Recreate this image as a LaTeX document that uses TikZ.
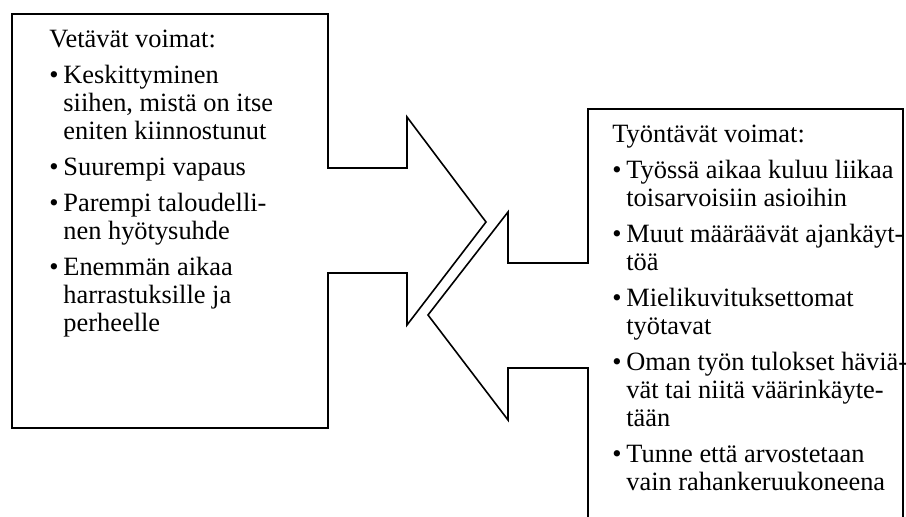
\documentclass[tikz,border=0pt]{standalone}
\usepackage{fontspec}
\setmainfont{Liberation Serif}
\usetikzlibrary{positioning}

\newcommand{\forceitem}{\par\hangindent=7pt\hangafter=1\noindent\makebox[7pt][l]{\textbullet}}
\newcommand{\forcelist}[1]{\begin{minipage}[t]{170pt}
  \fontsize{13.2}{14}\selectfont\hyphenpenalty=10000
  \setlength\parskip{4pt}\noindent#1\end{minipage}}

\begin{document}
\begin{tikzpicture}
    [x=0.5pt, y=-0.5pt,
    callout/.style={draw, line width=0.8pt, line join=miter},
    forces/.style={anchor=base west, inner sep=0pt}]

  \useasboundingbox (0,0) rectangle (906,517);
  \clip (0,0) rectangle (906,517);

  % pulling forces, arrow points right
  \draw[callout] (12,14) -- (328,14) -- (328,168) -- (407,168) -- (407,117)
    -- (486,222) -- (407,325) -- (407,273) -- (328,273) -- (328,428)
    -- (12,428) -- cycle;

  % pushing forces, arrow points left
  \draw[callout] (588,530) -- (588,368) -- (508,368) -- (508,420) -- (428,315)
    -- (508,212) -- (508,263) -- (588,263) -- (588,109) -- (903,109) -- (903,530);

  \node[forces] (pull) at (49,48) {\forcelist{%
    Vetävät voimat:
    \forceitem Keskittyminen\newline siihen, mistä on itse\newline eniten kiinnostunut
    \forceitem Suurempi vapaus
    \forceitem Parempi taloudelli-\newline nen hyötysuhde
    \forceitem Enemmän aikaa\newline harrastuksille ja\newline perheelle}};

  \node[forces] (push) at (612,143) {\forcelist{%
    Työntävät voimat:
    \forceitem Työssä aikaa kuluu liikaa\newline toisarvoisiin asioihin
    \forceitem Muut määräävät ajankäyt-\newline töä
    \forceitem Mielikuvituksettomat\newline työtavat
    \forceitem Oman työn tulokset häviä-\newline vät tai niitä väärinkäyte-\newline tään
    \forceitem Tunne että arvostetaan\newline vain rahankeruukoneena}};

\end{tikzpicture}
\end{document}
